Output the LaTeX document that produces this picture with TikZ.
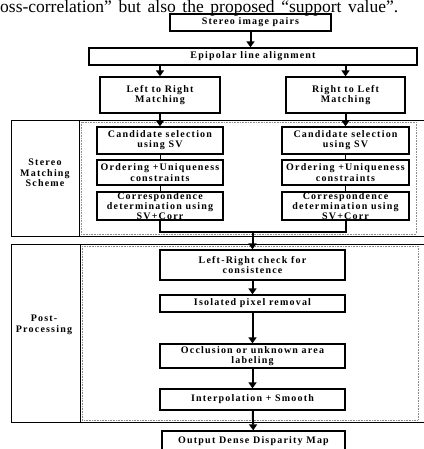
\documentclass[tikz,border=0pt]{standalone}
\usepackage{fontspec}
\setmainfont{Liberation Serif}
\newfontfamily\boxfont[LetterSpace=12]{Liberation Serif}
\usepackage{tikz}
\usetikzlibrary{positioning, arrows.meta}

\begin{document}
\begin{tikzpicture}[
    x=1pt, y=-1pt,
    box/.style={rectangle, draw, line width=1.3pt, inner sep=0pt, align=center, font=\boxfont\bfseries\fontsize{10}{10.2}\selectfont},
    lbl/.style={align=center, font=\boxfont\bfseries\fontsize{10}{10.5}\selectfont},
    frame/.style={draw, line width=0.7pt},
    inner/.style={draw=black!45, densely dotted, line width=0.6pt},
    arrow/.style={-{Triangle[length=6pt, width=8pt]}, line width=2pt},
    link/.style={line width=2pt},
    thin/.style={line width=0.8pt}
]
\useasboundingbox (0,0) rectangle (423,449);

% caption line from the page above
\node[anchor=base west, inner sep=0pt, font=\fontsize{17.5}{19}\selectfont] (toptext) at (0,12.5)
  {\makebox[398pt][s]{oss-correlation'' but also the proposed ``support value''.}};

% frames
\draw[frame] (430,120) -- (11,120) -- (11,236) -- (430,236);
\draw[frame] (79,120) -- (79,236);
\draw[inner] (81,122) rectangle (416,234);
\node[lbl] (stereolbl) at (45,173) {Stereo\\Matching\\Scheme};

\draw[frame] (430,244) -- (11,244) -- (11,422) -- (430,422);
\draw[frame] (80,244) -- (80,422);
\draw[inner] (82,246) rectangle (418,420);
\node[lbl] (postlbl) at (44,325) {Post-\\Processing};

% top part
\node[box, minimum width=161pt, minimum height=17pt] (pairs) at (250.5,22.5) {Stereo image pairs};
\node[box, minimum width=328pt, minimum height=17pt] (epipolar) at (253,56.5) {Epipolar line alignment};
\node[box, minimum width=120pt, minimum height=36pt] (ltor) at (160,95) {Left to Right\\Matching};
\node[box, minimum width=119pt, minimum height=36pt] (rtol) at (345.5,95) {Right to Left\\Matching};

% matching scheme
\node[box, minimum width=126pt, minimum height=27pt] (candl) at (160,140.5) {Candidate selection\\using SV};
\node[box, minimum width=126pt, minimum height=25pt] (ordl) at (160,172.5) {Ordering +Uniqueness\\constraints};
\node[box, minimum width=126pt, minimum height=28pt] (corrl) at (160,206) {Correspondence\\determination using\\SV+Corr};

\node[box, minimum width=127pt, minimum height=27pt] (candr) at (345.5,140.5) {Candidate selection\\using SV};
\node[box, minimum width=127pt, minimum height=25pt] (ordr) at (345.5,172.5) {Ordering +Uniqueness\\constraints};
\node[box, minimum width=127pt, minimum height=28pt] (corrr) at (345.5,206) {Correspondence\\determination using\\SV+Corr};

% post-processing
\node[box, minimum width=185pt, minimum height=30pt] (lrcheck) at (252.5,265) {Left-Right check for\\consistence};
\node[box, minimum width=185pt, minimum height=17pt] (isolated) at (252.5,303.5) {Isolated pixel removal};
\node[box, minimum width=185pt, minimum height=24pt] (occlusion) at (252.5,356) {Occlusion or unknown area\\labeling};
\node[box, minimum width=185pt, minimum height=21pt] (interp) at (252.5,399.5) {Interpolation + Smooth};
\node[box, minimum width=183pt, minimum height=21pt] (output) at (253.5,441.5) {Output Dense Disparity Map};

\coordinate (join) at (252.5,232);

% connectors
\draw[arrow] (pairs) -- (pairs|-epipolar.north);
\draw[arrow] (ltor|-epipolar.south) -- (ltor);
\draw[arrow] (rtol|-epipolar.south) -- (rtol);
\draw[arrow] (ltor) -- (candl);
\draw[arrow] (rtol) -- (candr);
\draw[thin] (candl) -- (ordl);
\draw[thin] (ordl) -- (corrl);
\draw[thin] (candr) -- (ordr);
\draw[thin] (ordr) -- (corrr);
\draw[link] (corrl.south) |- (join);
\draw[link] (corrr.south) |- (join);
\draw[arrow] (join) -- (lrcheck);
\draw[arrow] (lrcheck) -- (isolated);
\draw[arrow] (isolated) -- (occlusion);
\draw[arrow] (occlusion) -- (interp);
\draw[arrow] (interp) -- (output);

\end{tikzpicture}
\end{document}
